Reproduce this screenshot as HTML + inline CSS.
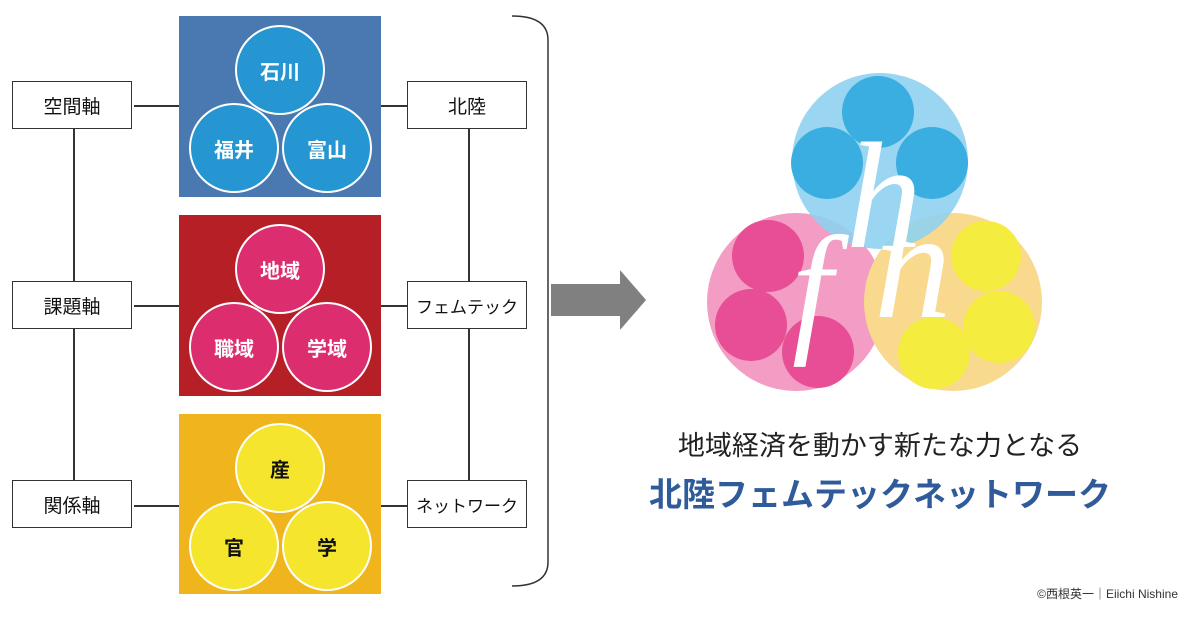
<!DOCTYPE html>
<html><head><meta charset="utf-8"><style>
body{margin:0;width:1200px;height:630px;background:#fff;position:relative;overflow:hidden;font-family:"Liberation Sans","Noto Sans CJK JP",sans-serif}
.a{position:absolute}
.lb{position:absolute;width:120px;height:48px;border:1.5px solid #333;background:#fff;display:flex;align-items:center;justify-content:center;font-size:19px;color:#111;box-sizing:border-box}
.c{position:absolute;width:90px;height:90px;border-radius:50%;border:2px solid #fff;box-sizing:border-box;display:flex;align-items:center;justify-content:center;font-size:20px;font-weight:bold}
.ln{position:absolute;background:#333}
</style></head><body>
<div class="ln" style="left:73px;top:105px;width:1.5px;height:400px"></div>
<div class="ln" style="left:468px;top:105px;width:1.5px;height:400px"></div>
<div class="ln" style="left:134px;top:105px;width:46px;height:1.5px"></div>
<div class="ln" style="left:134px;top:305px;width:46px;height:1.5px"></div>
<div class="ln" style="left:134px;top:505px;width:46px;height:1.5px"></div>
<div class="ln" style="left:380px;top:105px;width:28px;height:1.5px"></div>
<div class="ln" style="left:380px;top:305px;width:28px;height:1.5px"></div>
<div class="ln" style="left:380px;top:505px;width:28px;height:1.5px"></div>
<div class="lb" style="left:12px;top:81px">空間軸</div>
<div class="lb" style="left:12px;top:281px">課題軸</div>
<div class="lb" style="left:12px;top:480px">関係軸</div>
<div class="lb" style="left:407px;top:81px">北陸</div>
<div class="lb" style="left:407px;top:281px;font-size:17px">フェムテック</div>
<div class="lb" style="left:407px;top:480px;font-size:17px">ネットワーク</div>

<div class="a" style="left:179px;top:16px;width:202px;height:181px;background:#4a78b0"></div>
<div class="c" style="left:235px;top:25px;background:#2596d1;color:#fff">石川</div>
<div class="c" style="left:189px;top:103px;background:#2596d1;color:#fff">福井</div>
<div class="c" style="left:282px;top:103px;background:#2596d1;color:#fff">富山</div>

<div class="a" style="left:179px;top:215px;width:202px;height:181px;background:#b51f25"></div>
<div class="c" style="left:235px;top:224px;background:#dc2d6e;color:#fff">地域</div>
<div class="c" style="left:189px;top:302px;background:#dc2d6e;color:#fff">職域</div>
<div class="c" style="left:282px;top:302px;background:#dc2d6e;color:#fff">学域</div>

<div class="a" style="left:179px;top:414px;width:202px;height:180px;background:#f0b51c"></div>
<div class="c" style="left:235px;top:423px;background:#f5e52c;color:#111">産</div>
<div class="c" style="left:189px;top:501px;background:#f5e52c;color:#111">官</div>
<div class="c" style="left:282px;top:501px;background:#f5e52c;color:#111">学</div>

<svg class="a" style="left:0;top:0" width="1200" height="630">
<path d="M512 16 Q548 16 548 40 L548 562 Q548 586 512 586" fill="none" stroke="#333" stroke-width="1.5"/>
<polygon points="551,284 620,284 620,270 646,300 620,330 620,316 551,316" fill="#808080"/>
<g>
<circle cx="796" cy="302" r="89" fill="#f39cc4"/>
<circle cx="953" cy="302" r="89" fill="#f8d98e"/>
<circle cx="880" cy="161" r="88" fill="#8fd0ef" opacity="0.9"/>
<circle cx="878" cy="112" r="36" fill="#3aaee0"/>
<circle cx="827" cy="163" r="36" fill="#3aaee0"/>
<circle cx="932" cy="163" r="36" fill="#3aaee0"/>
<circle cx="768" cy="256" r="36" fill="#e84e95"/>
<circle cx="751" cy="325" r="36" fill="#e84e95"/>
<circle cx="818" cy="352" r="36" fill="#e84e95"/>
<circle cx="986" cy="256" r="35" fill="#f4ec3f"/>
<circle cx="999" cy="327" r="36" fill="#f4ec3f"/>
<circle cx="934" cy="353" r="36" fill="#f4ec3f"/>
<text x="846" y="247" font-family="Liberation Serif,serif" font-style="italic" font-size="152" fill="#fff">h</text>
<text x="792" y="336" font-family="Liberation Serif,serif" font-style="italic" font-size="145" fill="#fff">f</text>
<text x="874" y="317" font-family="Liberation Serif,serif" font-style="italic" font-size="155" fill="#fff">n</text>
</g>
</svg>
<div class="a" style="left:600px;top:424px;width:560px;text-align:center;font-size:27px;color:#222">地域経済を動かす新たな力となる</div>
<div class="a" style="left:600px;top:468px;width:560px;text-align:center;font-size:33px;font-weight:bold;color:#2f5b9a">北陸フェムテックネットワーク</div>
<div class="a" style="left:1000px;top:585px;width:178px;text-align:right;font-size:12px;color:#333">©西根英一｜Eiichi Nishine</div>
</body></html>
